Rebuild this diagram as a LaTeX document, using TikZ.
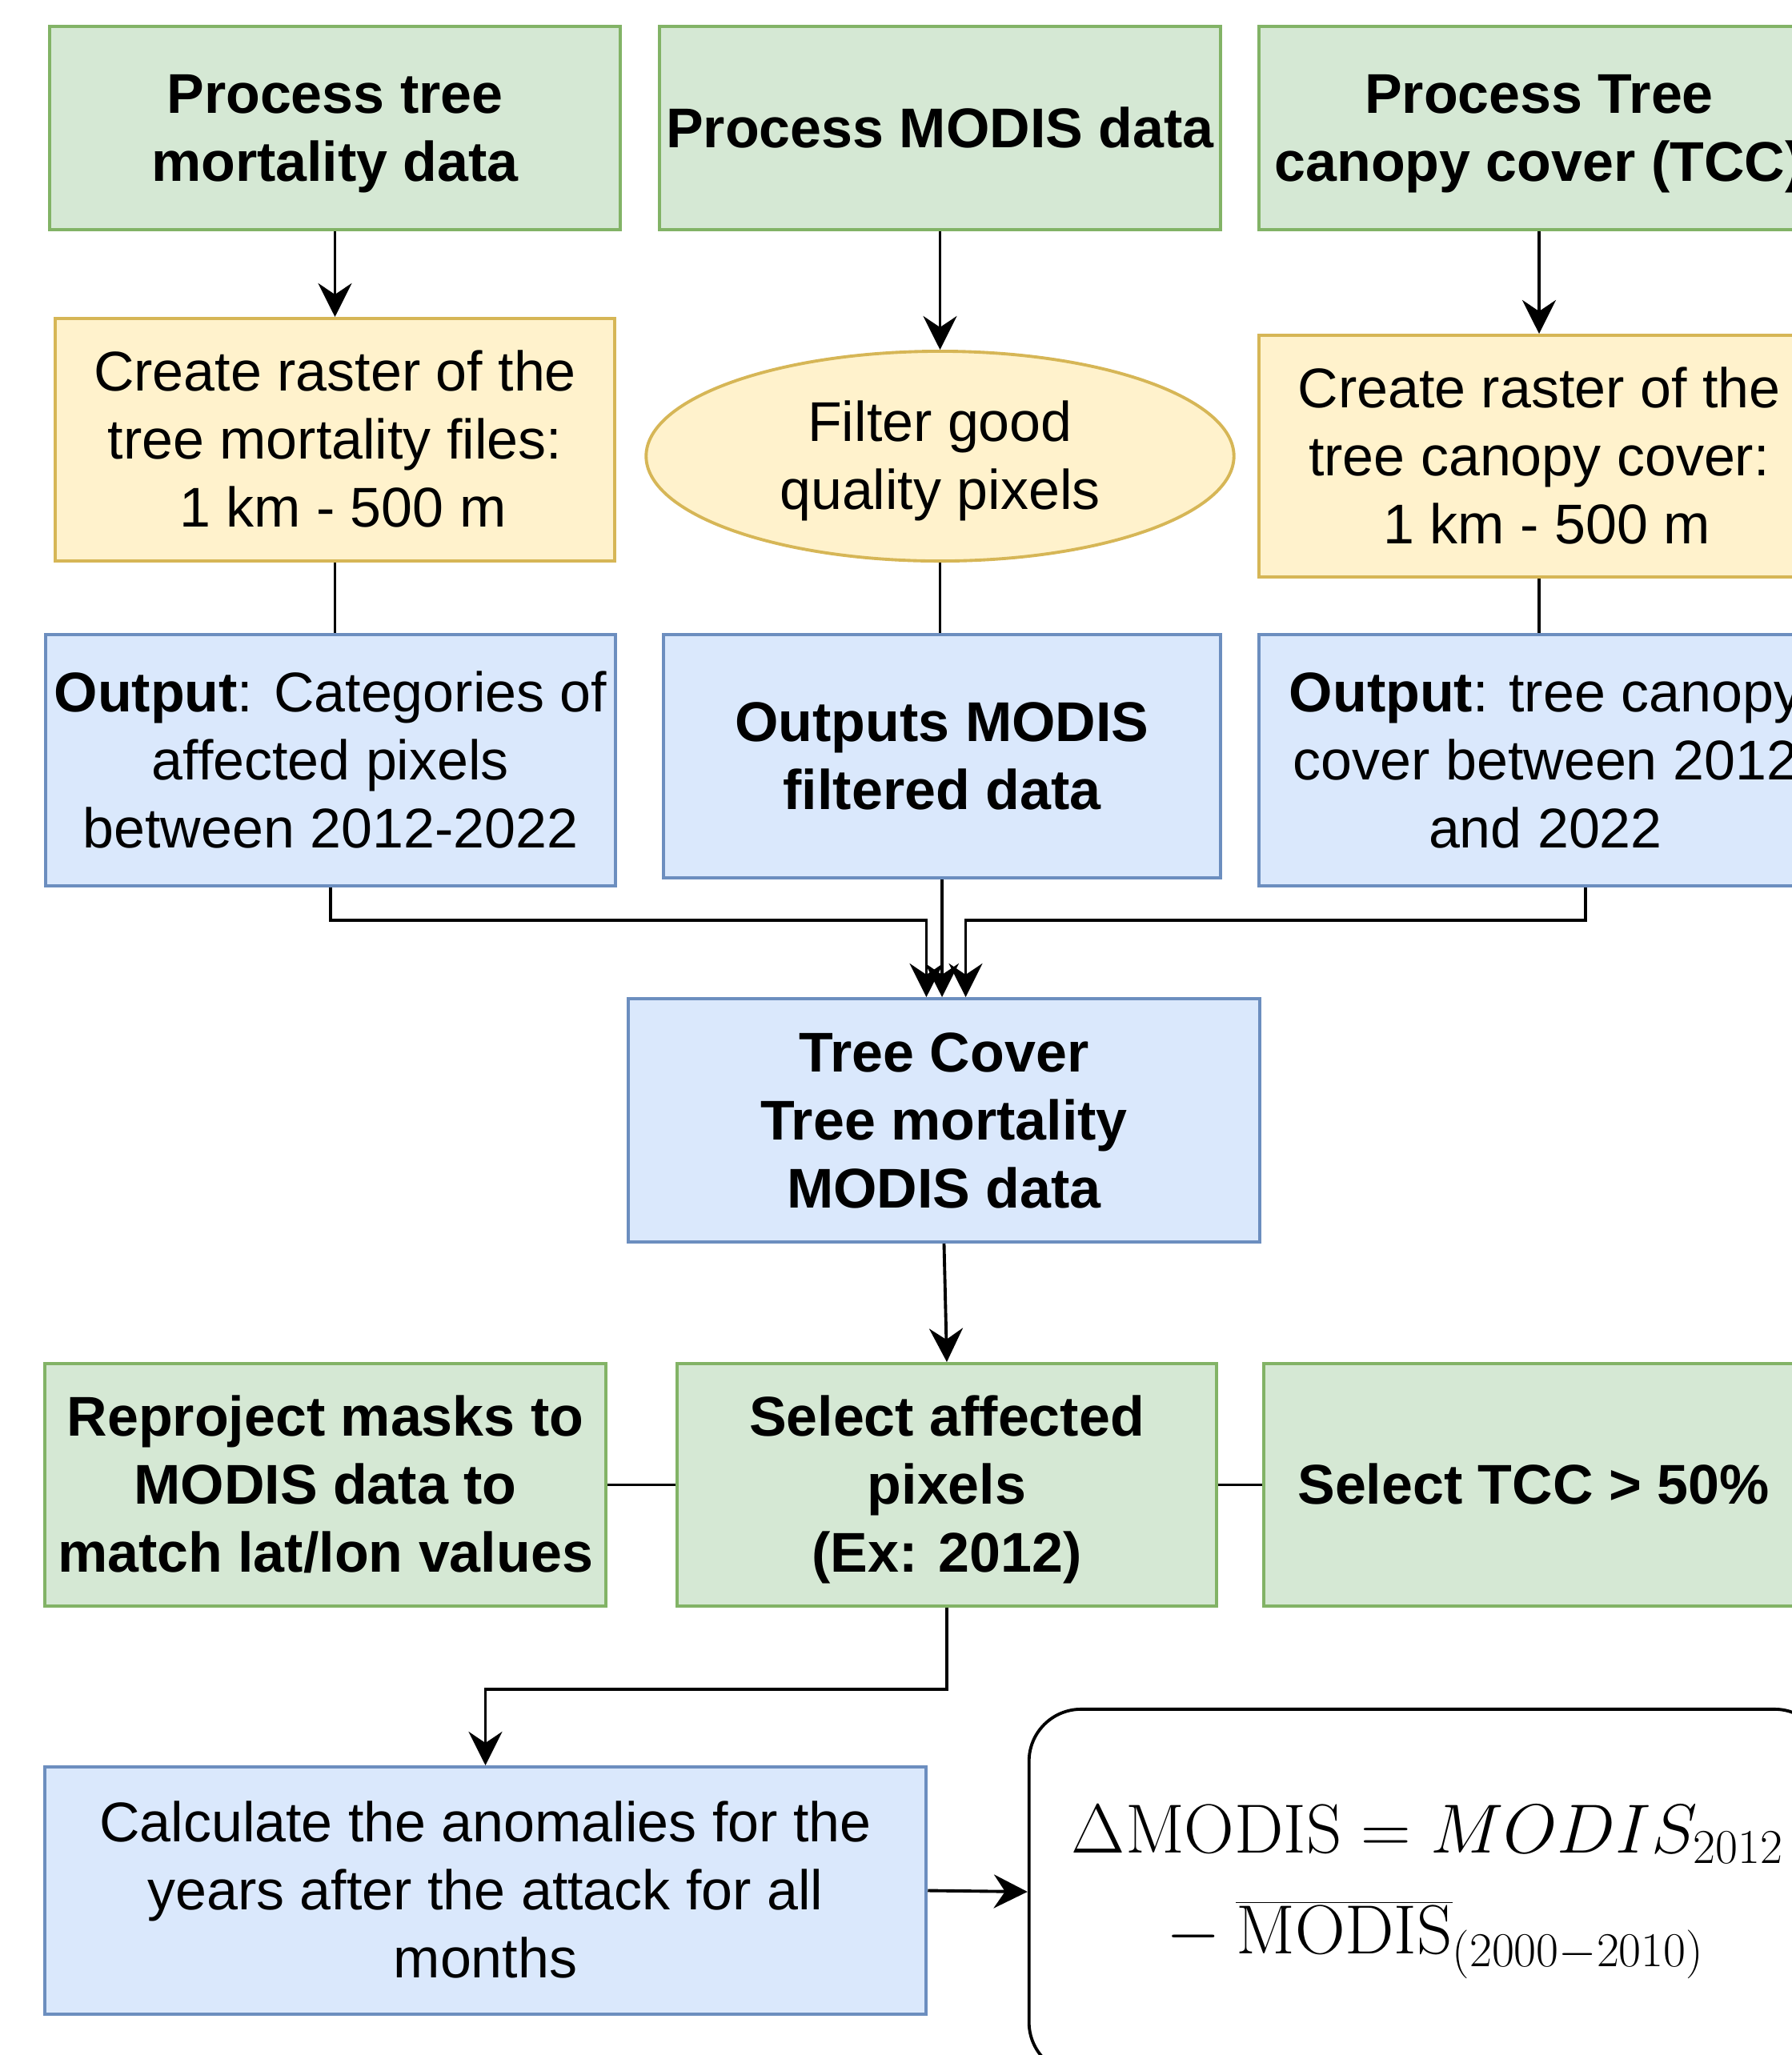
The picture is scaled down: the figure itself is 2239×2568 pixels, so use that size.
\RequirePackage{fix-cm}
\documentclass[tikz,border=0pt]{standalone}
\usepackage[no-math]{fontspec}
\setmainfont{Liberation Sans}
\usetikzlibrary{arrows.meta,shapes.geometric}

\definecolor{grfill}{HTML}{D5E8D4}
\definecolor{grline}{HTML}{82B366}
\definecolor{yefill}{HTML}{FFF2CC}
\definecolor{yeline}{HTML}{D6B656}
\definecolor{blfill}{HTML}{DAE8FC}
\definecolor{blline}{HTML}{6C8EBF}
\newcommand{\boxfont}{\fontsize{19.9}{24.2}\selectfont}
% strut of one line box, keeps text centred like the line boxes
\newcommand{\lh}{\rule[-0.2535em]{0pt}{1.2em}}

\begin{document}
\begin{tikzpicture}[x=0.01cm, y=-0.01cm,
    basebox/.style={draw, line width=1.1pt, inner sep=0pt, align=center, font=\boxfont},
    greenbox/.style={basebox, fill=grfill, draw=grline, font=\boxfont\bfseries},
    yellowbox/.style={basebox, fill=yefill, draw=yeline},
    bluebox/.style={basebox, fill=blfill, draw=blline},
    conn/.style={line width=1.1pt},
    arr/.style={conn, -{Stealth[length=4.2mm, width=4.2mm, inset=1.4mm]}}]
    \useasboundingbox (0,0) rectangle (2239,2568);
    \clip (0,0) rectangle (2239,2568);

    \node[greenbox, minimum width=7.13cm, minimum height=2.54cm] (tmort) at (418.5,160) {\lh Process tree\\mortality data\lh};
    \node[greenbox, minimum width=7.01cm, minimum height=2.54cm] (modis) at (1174.5,160) {\lh Process MODIS data\lh};
    \node[greenbox, minimum width=7.00cm, minimum height=2.54cm] (tcc) at (1923,160) {\lh Process Tree\\canopy cover (TCC)\lh};

    \node[yellowbox, minimum width=6.99cm, minimum height=3.03cm] (rastA) at (418.5,549.5) {\lh Create raster of the\\tree mortality files:\\\hspace*{0.28em}1 km - 500 m\lh};
    \node[yellowbox, ellipse, minimum width=7.34cm, minimum height=2.62cm] (filt) at (1174.5,570) {\lh Filter good\\quality pixels\lh};
    \node[yellowbox, minimum width=7.00cm, minimum height=3.02cm] (rastC) at (1923,570) {\lh Create raster of the\\tree canopy cover:\\\hspace*{0.28em}1 km - 500 m\lh};

    \node[bluebox, minimum width=7.12cm, minimum height=3.14cm] (outA) at (413,950) {\lh\textbf{Output}: Categories of\\affected pixels\\between 2012-2022\lh};
    \node[bluebox, minimum width=6.96cm, minimum height=3.04cm, font=\boxfont\bfseries] (outB) at (1177,945) {\lh Outputs MODIS\\filtered data\lh};
    \node[bluebox, minimum width=7.16cm, minimum height=3.14cm] (outC) at (1931,950) {\lh\textbf{Output}: tree canopy\\cover between 2012\\and 2022\lh};

    \node[bluebox, minimum width=7.89cm, minimum height=3.04cm, font=\boxfont\bfseries] (merge) at (1179.5,1400) {\lh Tree Cover\\Tree mortality\\MODIS data\lh};

    \node[greenbox, minimum width=7.01cm, minimum height=3.03cm] (reproj) at (406.5,1855.5) {\lh Reproject masks to\\MODIS data to\\match lat/lon values\lh};
    \node[greenbox, minimum width=6.74cm, minimum height=3.03cm] (selaff) at (1183,1855.5) {\lh Select affected\\pixels\\(Ex: 2012)\lh};
    \node[greenbox, minimum width=6.74cm, minimum height=3.03cm] (seltcc) at (1916,1855.5) {\lh Select TCC > 50\%\lh};

    \node[bluebox, minimum width=11.01cm, minimum height=3.09cm] (calc) at (606.5,2362.5) {\lh Calculate the anomalies for the\\years after the attack for all\\months\lh};
    \node[draw, fill=white, line width=1.1pt, rounded corners=0.65cm, minimum width=9.96cm, minimum height=4.56cm,
        align=center, font=\fontsize{24.7}{36}\selectfont] (delta) at (1784,2364)
        {$\Delta\mathrm{MODIS}=MODIS_{2012}$\\${}-\overline{\mathrm{MODIS}}_{(2000-2010)}$};

    \draw[arr] (tmort.south) -- (rastA.north);
    \draw[arr] (modis.south) -- (filt.north);
    \draw[arr] (tcc.south) -- (rastC.north);

    \draw[conn] (rastA.south) -- (rastA.south |- outA.north);
    \draw[conn] (filt.south) -- (filt.south |- outB.north);
    \draw[conn] (rastC.south) -- (rastC.south |- outC.north);

    \draw[arr] (outA.south) -- ++(0,41) -| ([xshift=-0.22cm]merge.north);
    \draw[arr] (outB.south) -- (outB.south |- merge.north);
    \draw[arr] ([xshift=0.50cm]outC.south) -- ++(0,41) -| ([xshift=0.27cm]merge.north);

    \draw[arr] (merge.south) -- (selaff.north);
    \draw[conn] (reproj.east) -- (selaff.west);
    \draw[conn] (selaff.east) -- (seltcc.west);
    \draw[arr] (selaff.south) -- ++(0,102) -| (calc.north);
    \draw[arr] (calc.east) -- (delta.west);
\end{tikzpicture}
\end{document}
